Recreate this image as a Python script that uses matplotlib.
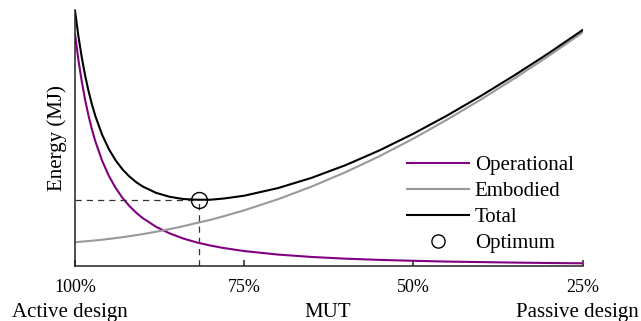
import matplotlib
matplotlib.use("Agg")
from matplotlib import pyplot as plt
from matplotlib.lines import Line2D

plt.rcParams['font.family'] = ['Liberation Serif', 'DejaVu Serif']

# MUT (%) from active (100%) to passive (25%) design
mut = [100, 99.5, 99, 98.5, 98, 97.5, 97, 96, 95, 94, 93, 92, 91, 90,
       88, 86, 84, 82, 80, 78, 75, 70, 65, 60, 55, 50, 45, 40, 35, 30, 25]

# energy, arbitrary units
operational = [231.1, 205.3, 183.7, 165.3, 149.6, 136.0, 124.2, 104.8, 89.6, 77.6, 67.8, 59.8, 53.1, 47.5,
               38.7, 32.2, 27.1, 23.2, 20.1, 17.6, 14.6, 11.1, 8.7, 7.0, 5.8, 4.9, 4.1, 3.6, 3.1, 2.7, 2.4]
embodied = [23.5, 23.7, 24.0, 24.3, 24.6, 24.9, 25.2, 25.9, 26.7, 27.5, 28.4, 29.4, 30.4, 31.5,
            33.9, 36.5, 39.4, 42.6, 45.7, 49.4, 55.2, 66.3, 79.0, 93.3, 109.2, 126.7, 145.7, 165.8, 187.0, 209.2, 232.5]
total = [254.6, 229.0, 207.7, 189.6, 174.2, 160.9, 149.4, 130.7, 116.3, 105.1, 96.2, 89.2, 83.5, 79.0,
         72.6, 68.7, 66.5, 65.8, 65.8, 67.0, 69.8, 77.4, 87.7, 100.3, 115.0, 131.6, 149.8, 169.4, 190.1, 211.9, 234.9]

opt_x = 81.7
opt_y = 65.7

ticks = [100, 75, 50, 25]
tick_labels = ['100%', '75%', '50%', '25%']

purple = '#800080'
grey = '#999999'

fig = plt.figure(figsize=(6.41, 3.21), dpi=100)
ax = fig.add_axes([75/641, 1-265.7/321, (582.5-75)/641, (265.7-10)/321])

ax.plot(mut, operational, color=purple, lw=1.5)
ax.plot(mut, embodied, color=grey, lw=1.5)
ax.plot(mut, total, color='black', lw=1.5)

# dashed guides to the optimum
ax.plot([100, opt_x], [opt_y, opt_y], color='#333333', lw=0.9, ls=(0, (5, 4)))
ax.plot([opt_x, opt_x], [0, opt_y], color='#333333', lw=0.9, ls=(0, (5, 4)))
ax.plot([opt_x], [opt_y], marker='o', ms=11.5, mfc='none', mec='black', mew=1.0, ls='none')

ax.set_xlim(100, 25)
ax.set_ylim(0, 255)
ax.set_xticks(ticks)
ax.set_xticklabels(tick_labels)
ax.set_yticks([])
ax.tick_params(axis='x', direction='in', length=4.2, width=1.1, labelsize=13, pad=9.5, color='#222222')
for s in ['top', 'right']:
    ax.spines[s].set_visible(False)
for s in ['left', 'bottom']:
    ax.spines[s].set_linewidth(1.1)
    ax.spines[s].set_color('#222222')

fig.text(56.7/641, 1-138/321, 'Energy (MJ)', rotation=90, ha='center', va='center', fontsize=15)
fig.text(11.7/641, 1-316.7/321, 'Active design', ha='left', va='baseline', fontsize=15)
fig.text(327.5/641, 1-316.7/321, 'MUT', ha='center', va='baseline', fontsize=15)
fig.text(639/641, 1-316.7/321, 'Passive design', ha='right', va='baseline', fontsize=15)

handles = [
    Line2D([], [], color=purple, lw=1.5),
    Line2D([], [], color=grey, lw=1.5),
    Line2D([], [], color='black', lw=1.5),
    Line2D([], [], marker='o', ms=9.5, mfc='none', mec='black', mew=1.0, ls='none'),
]
labels = ['Operational', 'Embodied', 'Total', 'Optimum']
fig.legend(handles, labels, loc='upper left', bbox_to_anchor=(406.7/641, 1-155.6/321),
           frameon=False, fontsize=15, handlelength=3.0, handletextpad=0.27,
           labelspacing=0.31, borderpad=0, borderaxespad=0)

fig.savefig('out.png', dpi=100)
